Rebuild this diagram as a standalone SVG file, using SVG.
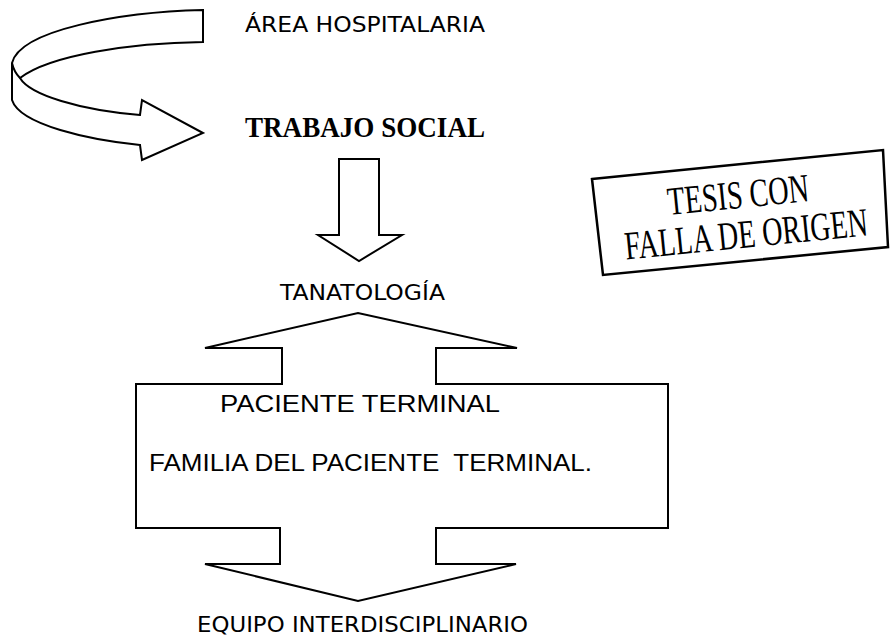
<svg xmlns="http://www.w3.org/2000/svg" width="890" height="638" viewBox="0 0 890 638">
<style>
.ln{fill:#fff;stroke:#000;stroke-width:2;stroke-linejoin:miter}
.v{font-family:"DejaVu Sans",Verdana,sans-serif;font-size:22px;fill:#000}
.a{font-family:"Liberation Sans",Arial,sans-serif;font-size:24px;fill:#000}
.b{font-family:"Liberation Serif","Times New Roman",serif;font-size:30px;font-weight:bold;fill:#000}
.s{font-family:"Liberation Serif","Times New Roman",serif;font-size:40px;fill:#000}
</style>
<rect width="890" height="638" fill="#fff"/>
<g id="connectors">
<g id="curved-arrow">
<path class="ln" d="M203,10 C120,12 20,30 12,63 L12,100 C20,125 90,140 140,145 L142,160 L203,133 L142,100 L140,115 C80,110 30,95 20,78 C50,55 130,43 203,42 Z"/>
<path class="ln" fill="none" d="M12,63 Q14,72 20,78"/>
</g>
<polygon id="down-arrow" class="ln" points="339,159 379,159 379,235 402,235 359,261 318,235 339,235"/>
</g>
<g id="area-hospitalaria"><text class="v" x="245" y="32" textLength="240" lengthAdjust="spacingAndGlyphs">ÁREA HOSPITALARIA</text></g>
<g id="trabajo-social"><text class="b" x="245" y="137" textLength="240" lengthAdjust="spacingAndGlyphs">TRABAJO SOCIAL</text></g>
<g id="tanatologia"><text class="v" x="280" y="300" textLength="165" lengthAdjust="spacingAndGlyphs">TANATOLOGÍA</text></g>
<g id="paciente-box">
<path class="ln" d="M136,384 L282,384 L282,348 L205,348 L358,313 L517,348 L436,348 L436,384 L668,384 L668,528 L436,528 L436,564 L516,564 L358,601 L205,564 L280,564 L280,528 L136,528 Z"/>
<text class="a" x="220" y="412" textLength="280" lengthAdjust="spacingAndGlyphs">PACIENTE TERMINAL</text>
<text class="a" x="149" y="471" textLength="443" lengthAdjust="spacingAndGlyphs" xml:space="preserve">FAMILIA DEL PACIENTE  TERMINAL.</text>
</g>
<g id="equipo"><text class="v" x="197" y="632" textLength="331" lengthAdjust="spacingAndGlyphs">EQUIPO INTERDISCIPLINARIO</text></g>
<g id="stamp">
<polygon points="592,179 883,150 888,247 603,275" fill="none" stroke="#000" stroke-width="2.5"/>
<g transform="rotate(-5.7 740 213)">
<text class="s" x="740" y="208" text-anchor="middle" textLength="142" lengthAdjust="spacingAndGlyphs">TESIS CON</text>
<text class="s" x="744" y="248" text-anchor="middle" textLength="244" lengthAdjust="spacingAndGlyphs">FALLA DE ORIGEN</text>
</g>
</g>
</svg>
